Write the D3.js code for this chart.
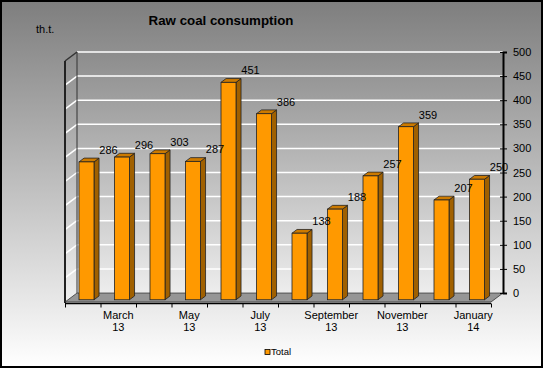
<!DOCTYPE html>
<html><head><meta charset="utf-8">
<script src="https://cdn.jsdelivr.net/npm/d3@7"></script>
<style>html,body{margin:0;padding:0;background:#fff}svg{display:block}text{font-family:Arial,"Liberation Sans",sans-serif}</style>
</head><body><svg id="c" width="543" height="368"></svg>
<script>
const months = ["February","March","April","May","June","July","August","September","October","November","December","January"];
const years = ["13","13","13","13","13","13","13","13","13","13","13","14"];
const values = [286,296,303,287,451,386,138,188,257,359,207,250];
const yTicks = [0,50,100,150,200,250,300,350,400,450,500];
const seriesName = "Total";

const svg = d3.select("#c");
const W = 543, H = 368;
const defs = svg.append("defs");
const g1 = defs.append("linearGradient").attr("id","bg").attr("x1",0).attr("y1",0).attr("x2",0).attr("y2",1);
g1.append("stop").attr("offset","0%").attr("stop-color","#7e7e7e");
g1.append("stop").attr("offset","100%").attr("stop-color","#ffffff");
const g2 = defs.append("linearGradient").attr("id","wall").attr("gradientUnits","userSpaceOnUse").attr("x1",0).attr("y1",52).attr("x2",0).attr("y2",300);
g2.append("stop").attr("offset","0%").attr("stop-color","#8c8c8c");
g2.append("stop").attr("offset","100%").attr("stop-color","#f0f0f0");

svg.append("rect").attr("x",1).attr("y",1).attr("width",W-2).attr("height",H-2)
  .attr("fill","url(#bg)").attr("stroke","#000").attr("stroke-width",2);

// 3D geometry
const DX = -12, DY = 9; // back -> front offset
const x = d3.scaleBand().domain(d3.range(values.length)).range([77, 503]);
const y = d3.scaleLinear().domain([0, 500]).range([293, 52]);
const off = t => [DX*t, DY*t];

// back wall
svg.append("rect").attr("x",77).attr("y",y(500)).attr("width",503-77).attr("height",y(0)-y(500)).attr("fill","url(#wall)");
// left wall
svg.append("path").attr("d",`M77,${y(500)}L${77+DX},${y(500)+DY}L${77+DX},${y(0)+DY}L77,${y(0)}Z`).attr("fill","url(#wall)");

// gridlines
yTicks.forEach(v => {
  svg.append("line").attr("x1",77).attr("x2",503).attr("y1",y(v)).attr("y2",y(v)).attr("stroke","#fff").attr("stroke-width",1.5);
  svg.append("line").attr("x1",77).attr("x2",77+DX).attr("y1",y(v)).attr("y2",y(v)+DY).attr("stroke",v===500?"#333":"#fff").attr("stroke-width",1.5);
});
svg.append("line").attr("x1",77).attr("x2",77).attr("y1",y(500)).attr("y2",y(0)).attr("stroke","#333").attr("stroke-width",1);
svg.append("line").attr("x1",77+DX).attr("x2",77+DX).attr("y1",y(500)+DY).attr("y2",y(0)+DY+1).attr("stroke","#222").attr("stroke-width",2);

// floor
svg.append("path").attr("d",`M77,${y(0)}L503,${y(0)}L${503+DX},${y(0)+DY}L${77+DX},${y(0)+DY}Z`)
  .attr("fill","#969696").attr("stroke","#333").attr("stroke-width",0.8);

// right axis
const ra = svg.append("g").attr("transform","translate(503,0)")
  .call(d3.axisRight(y).tickValues(yTicks).tickSize(4).tickPadding(6));
ra.select(".domain").attr("stroke","#000").attr("stroke-width",2);
ra.selectAll(".tick line").attr("x1",-3).attr("stroke","#000");
ra.selectAll("text").attr("font-size",11).attr("fill","#000").attr("font-family","Arial, 'Liberation Sans', sans-serif");

// bottom axis on front edge
const xf = d3.scaleLinear().domain([0, values.length]).range([77+DX, 503+DX]);
const ba = svg.append("g").attr("transform",`translate(0,${y(0)+DY+1.5})`)
  .call(d3.axisBottom(xf).tickValues(d3.range(values.length+1)).tickSize(4).tickFormat(""));
ba.select(".domain").attr("stroke","#000").attr("stroke-width",1.5).attr("d",`M${77+DX},0H${503+DX}`);
ba.selectAll(".tick line").attr("stroke","#000");
const labIdx = d3.range(values.length).filter(i => i % 2 === 1);
const lab = svg.append("g").selectAll("text").data(labIdx).join("text")
  .attr("x", i => x(i) + x.bandwidth()/2 + DX).attr("y", 319)
  .attr("text-anchor","middle").attr("font-size",11).attr("fill","#000");
lab.append("tspan").attr("x", i => x(i) + x.bandwidth()/2 + DX).attr("dy",0).text(i => months[i]);
lab.append("tspan").attr("x", i => x(i) + x.bandwidth()/2 + DX).attr("dy",12).text(i => years[i]);

// bars
const tF = 0.75, tB = 0.33;
const bw = 15, gap = 11;
const bars = svg.append("g").selectAll("g").data(values).join("g");
bars.each(function(v, i) {
  const g = d3.select(this);
  const [fx, fy] = off(tF), [bx, by] = off(tB);
  const xl = x(i) + gap + fx, xr = xl + bw;
  const yt = y(v) + fy, yb = y(0) + fy;
  const ddx = bx - fx, ddy = by - fy;
  g.append("path").attr("d",`M${xr},${yt}L${xr+ddx},${yt+ddy}L${xr+ddx},${yb+ddy}L${xr},${yb}Z`)
    .attr("fill","#a06000").attr("stroke","#222").attr("stroke-width",0.8);
  g.append("path").attr("d",`M${xl},${yt}L${xl+ddx},${yt+ddy}L${xr+ddx},${yt+ddy}L${xr},${yt}Z`)
    .attr("fill","#cc7a00").attr("stroke","#222").attr("stroke-width",0.8);
  g.append("rect").attr("x",xl).attr("y",yt).attr("width",bw).attr("height",yb-yt)
    .attr("fill","#ff9900").attr("stroke","#222").attr("stroke-width",0.8);
});
// value labels
svg.append("g").selectAll("text").data(values).join("text")
  .attr("x",(v,i) => x(i) + gap + off(tF)[0] + bw/2 + 22)
  .attr("y",v => y(v) + off(tF)[1] - 8)
  .attr("text-anchor","middle").attr("font-size",11).attr("fill","#000")
  .text(v => v);

// title
svg.append("text").attr("x",221).attr("y",25).attr("text-anchor","middle").attr("font-size",13.3).attr("font-weight","bold").attr("fill","#000").text("Raw coal consumption");
svg.append("text").attr("x",36).attr("y",33).attr("font-size",11).attr("fill","#000").text("th.t.");

// legend
svg.append("rect").attr("x",265).attr("y",349.5).attr("width",5).attr("height",5).attr("fill","#ff9900").attr("stroke","#000").attr("stroke-width",0.8);
svg.append("text").attr("x",271).attr("y",355).attr("font-size",9.5).attr("fill","#000").text(seriesName);
</script></body></html>
